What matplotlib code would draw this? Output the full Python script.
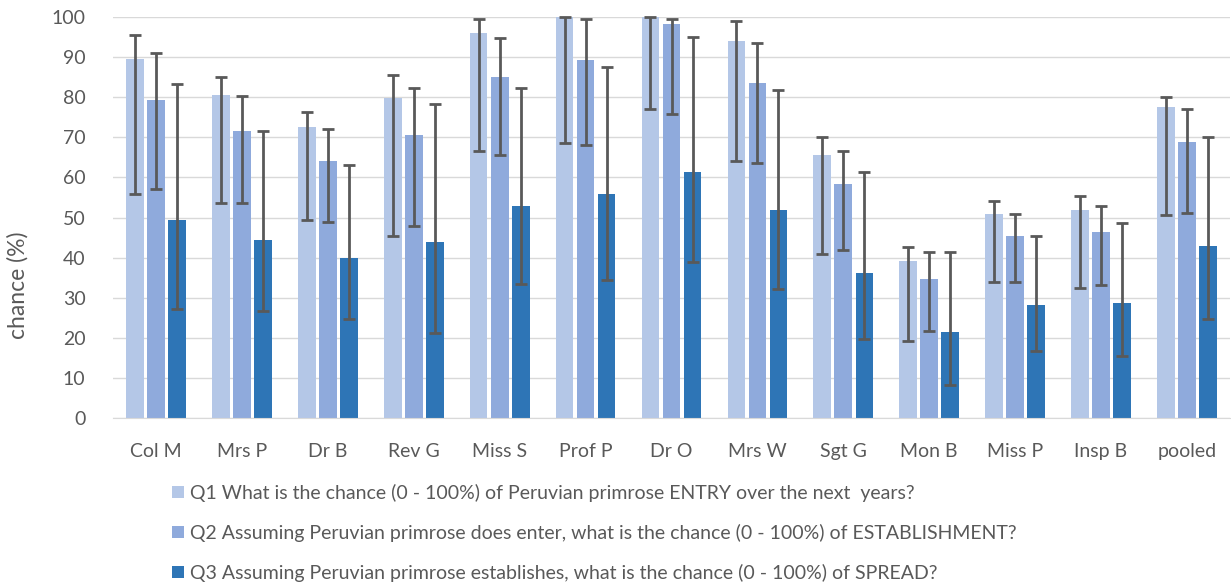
import matplotlib.pyplot as plt
import numpy as np

plt.rcParams['font.family'] = ['Lato', 'DejaVu Sans']

experts = ["Col M", "Mrs P", "Dr B", "Rev G", "Miss S", "Prof P", "Dr O",
           "Mrs W", "Sgt G", "Mon B", "Miss P", "Insp B", "pooled"]

# best estimates
q1 = [89.5, 80.5, 72.5, 79.8, 95.9, 100.0, 100.0, 93.9, 65.6, 39.2, 51.0, 52.0, 77.6]
q2 = [79.4, 71.6, 64.2, 70.6, 85.0, 89.2, 98.3, 83.6, 58.3, 34.8, 45.3, 46.3, 68.8]
q3 = [49.5, 44.5, 40.0, 44.0, 52.9, 55.8, 61.3, 52.0, 36.1, 21.4, 28.1, 28.8, 42.8]

# lower / upper bounds
q1_lo = [55.9, 53.6, 49.5, 45.3, 66.7, 68.7, 77.1, 64.1, 40.9, 19.3, 34.0, 32.4, 50.6]
q1_hi = [95.4, 85.1, 76.3, 85.5, 99.6, 100.0, 100.0, 98.9, 70.0, 42.6, 54.0, 55.4, 80.1]
q2_lo = [57.0, 53.6, 49.0, 47.9, 65.6, 68.0, 75.8, 63.6, 41.9, 21.6, 34.0, 33.1, 51.1]
q2_hi = [90.9, 80.4, 72.0, 82.3, 94.8, 99.6, 99.6, 93.4, 66.7, 41.4, 51.0, 52.9, 77.1]
q3_lo = [27.1, 26.6, 24.6, 21.2, 33.5, 34.5, 38.8, 32.2, 19.7, 8.2, 16.8, 15.6, 24.8]
q3_hi = [83.2, 71.5, 63.1, 78.4, 82.2, 87.6, 95.0, 81.9, 61.3, 41.4, 45.3, 48.6, 70.0]

labels = [
    "Q1 What is the chance (0 - 100%) of Peruvian primrose ENTRY over the next  years?",
    "Q2 Assuming Peruvian primrose does enter, what is the chance (0 - 100%) of ESTABLISHMENT?",
    "Q3 Assuming Peruvian primrose establishes, what is the chance (0 - 100%) of SPREAD?",
]
colors = ["#b4c7e7", "#8faadc", "#2e75b6"]

fig = plt.figure(figsize=(12.31, 5.84), dpi=100)
ax = fig.add_axes([0.092, 0.284, 0.907, 0.687])

x = np.arange(len(experts))
series = [(q1, q1_lo, q1_hi), (q2, q2_lo, q2_hi), (q3, q3_lo, q3_hi)]
for i, (vals, lo, hi) in enumerate(series):
    vals = np.array(vals)
    yerr = [vals - np.array(lo), np.clip(np.array(hi) - vals, 0, None)]
    ax.bar(x + (i - 1) * 0.245, vals, width=0.205, color=colors[i], label=labels[i],
           yerr=yerr, error_kw=dict(ecolor="#595959", elinewidth=2, capsize=4, capthick=2,
                                    clip_on=False),
           zorder=2)

ax.set_xlim(-0.5, len(experts) - 0.5)
ax.set_ylim(0, 100)
ax.set_yticks(range(0, 101, 10))
ax.set_xticks(x)
ax.set_xticklabels(experts)
ax.tick_params(axis="both", length=0, labelsize=14, colors="#595959")
ax.tick_params(axis="x", pad=18)
ax.tick_params(axis="y", pad=20)
ax.grid(axis="y", color="#d9d9d9", linewidth=1, zorder=0)
ax.set_axisbelow(True)
for s in ["top", "right", "left"]:
    ax.spines[s].set_visible(False)
ax.spines["bottom"].set_color("#d9d9d9")
ax.set_ylabel("chance (%)", fontsize=16.5, color="#595959")
ax.yaxis.set_label_coords(-0.076, 0.33)

fig.legend(loc="upper left", bbox_to_anchor=(0.132, 0.188), frameon=False,
           fontsize=14, labelcolor="#595959", handlelength=0.6, handleheight=0.6,
           handletextpad=0.3, labelspacing=1.12, borderpad=0)

fig.savefig("out.png", dpi=100)
